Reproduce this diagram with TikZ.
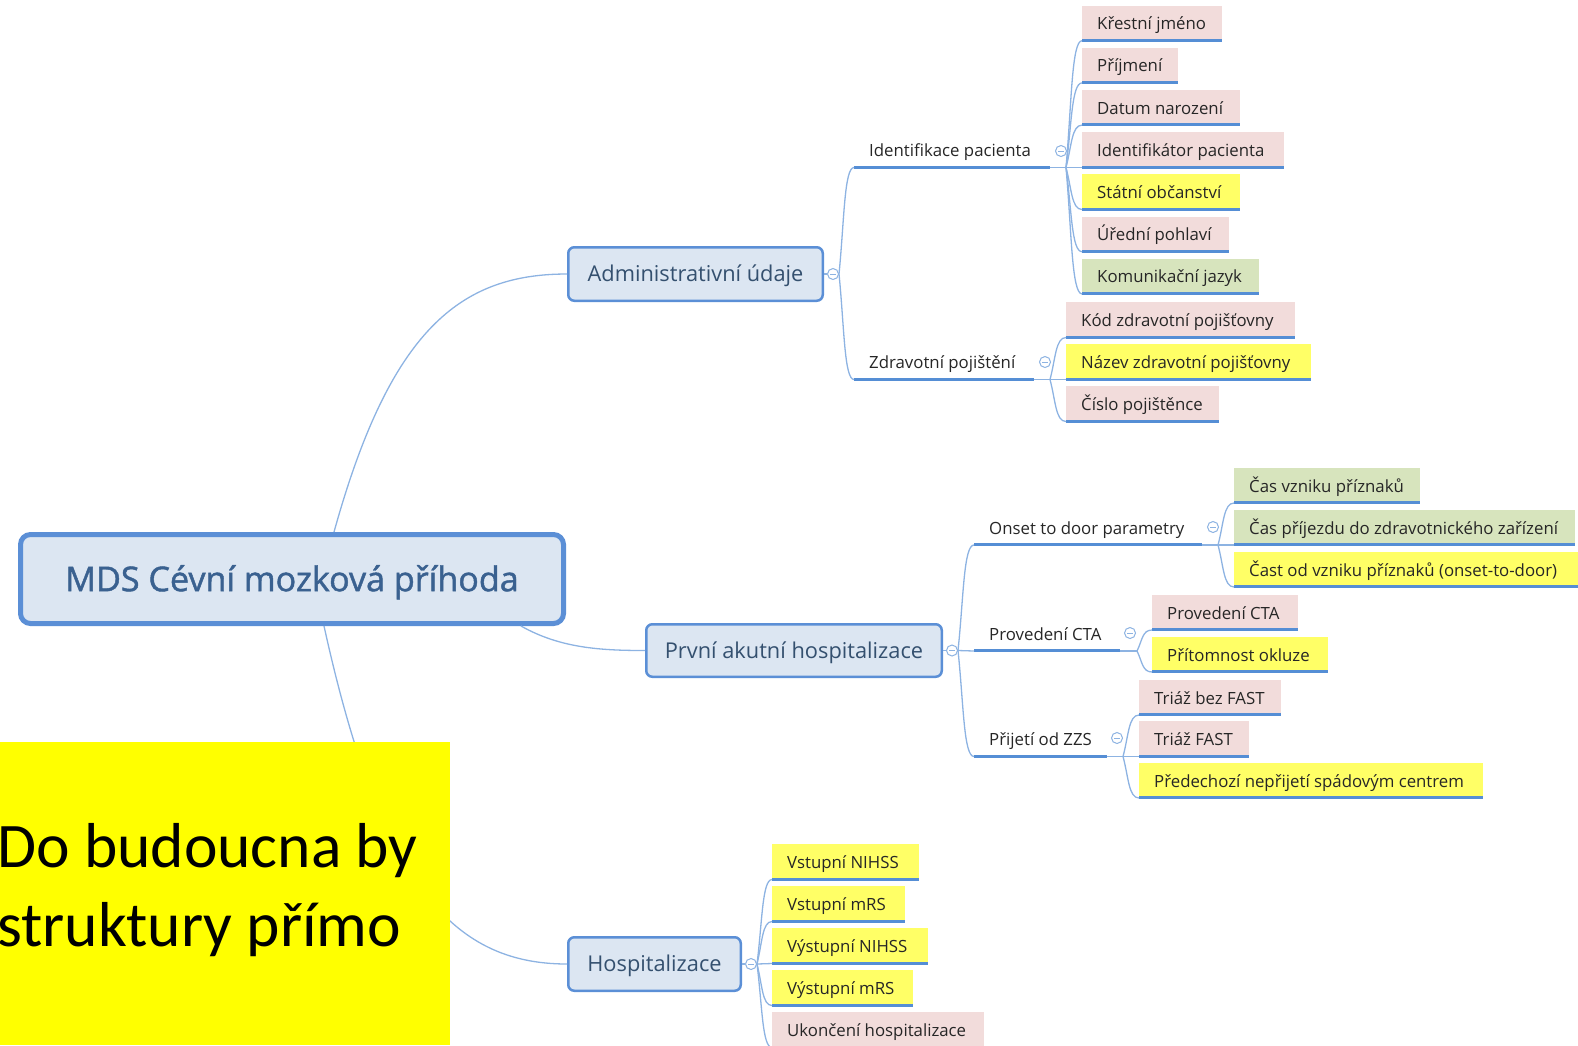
\documentclass[tikz,border=0pt]{standalone}
\usepackage{fontspec}
\setmainfont{Open Sans}
\newfontfamily\notefont{Carlito}
\newfontfamily\rootfont{Open Sans}[FakeBold=1.3]
\usetikzlibrary{calc}
\definecolor{pinkc}{HTML}{F2DCDB}
\definecolor{yelc}{HTML}{FFFF66}
\definecolor{grnc}{HTML}{D7E4BD}
\definecolor{ulblue}{HTML}{558ED5}
\definecolor{connc}{HTML}{8DB3E2}
\definecolor{boxfill}{HTML}{DCE6F2}
\definecolor{boxline}{HTML}{5B8FD6}
\definecolor{roottext}{HTML}{3A6190}
\definecolor{onetext}{HTML}{34506F}
\definecolor{leaftext}{HTML}{262626}
\definecolor{iconc}{HTML}{8DB3E2}
\definecolor{notey}{HTML}{FFFF00}
\newcommand{\mmleaf}[2]{\makebox[#1pt][l]{\hspace*{15pt}#2}}
\tikzset{
  conn/.style={draw=connc, line width=1.3pt},
  branch/.style={to path={let \p1=(\tikztostart), \p2=(\tikztotarget) in
      .. controls ({\x1+0.35*(\x2-\x1)},{0.5*\y1+0.5*\y2}) and ({\x1+0.35*(\x2-\x1)},{\y2}) .. (\tikztotarget)}},
  underl/.style={path picture={\fill[ulblue] ([yshift=3pt]path picture bounding box.south west) rectangle (path picture bounding box.south east);}},
  leaf/.style={fill=#1, underl, anchor=south west, inner sep=0pt, minimum height=36.5pt,
      text=leaftext, font=\fontsize{16.8}{20}\selectfont, text height=12pt, text depth=0pt},
  lvltwo/.style={underl, anchor=south west, inner sep=0pt, minimum height=36pt,
      text=leaftext, font=\fontsize{16.8}{20}\selectfont, text height=12pt, text depth=0pt},
  lvlone/.style={fill=boxfill, draw=boxline, line width=2.5pt, rounded corners=6pt,
      inner sep=0pt, text=onetext, font=\fontsize{21.8}{26}\selectfont, text height=15.6pt, text depth=0pt},
  rootbox/.style={fill=boxfill, draw=boxline, line width=5pt, rounded corners=10pt,
      inner sep=0pt, text=roottext, font=\rootfont\fontsize{34.1}{40}\selectfont, text height=24.3pt, text depth=0pt},
  icon/.style={circle, draw=iconc, fill=white, line width=1pt, minimum size=11pt, inner sep=0pt,
      path picture={\draw[iconc, line width=1pt] ([xshift=-3pt]path picture bounding box.center) -- ([xshift=3pt]path picture bounding box.center);}},
  notetext/.style={anchor=base west, inner sep=0pt, font=\notefont\fontsize{63.5}{77}\selectfont, text=black}
}
\begin{document}
\begin{tikzpicture}[x=1pt,y=-1pt]
\useasboundingbox (0,0) rectangle (1578,1045);

% main boxes
\node[rootbox, minimum width=543pt, minimum height=89pt] (root) at (292,579) {MDS Cévní mozková příhoda};
\node[lvlone, minimum width=254.5pt, minimum height=53.5pt] (adm) at (695.5,274) {Administrativní údaje};
\node[lvlone, minimum width=295.5pt, minimum height=52.5pt] (pah) at (794,650.5) {První akutní hospitalizace};
\node[lvlone, minimum width=172.5pt, minimum height=53.5pt] (hosp) at (654.5,964) {Hospitalizace};

% icons of level one
\node[icon] (iadm) at (833,274) {};
\node[icon] (ipah) at (952,650.5) {};
\node[icon] (ihosp) at (751,964) {};

% level two
\node[lvltwo] (idp) at (854,169) {\mmleaf{196}{Identifikace pacienta}};
\node[lvltwo] (zdp) at (854,381) {\mmleaf{180}{Zdravotní pojištění}};
\node[lvltwo] (ons) at (974,546.5) {\mmleaf{228}{Onset to door parametry}};
\node[lvltwo] (cta) at (974,652.5) {\mmleaf{146}{Provedení CTA}};
\node[lvltwo] (zzs) at (974,758) {\mmleaf{133}{Přijetí od ZZS}};

\node[icon] (iidp) at (1061,151) {};
\node[icon] (izdp) at (1045,362) {};
\node[icon] (ions) at (1213,527) {};
\node[icon] (icta) at (1130,633) {};
\node[icon] (izzs) at (1117,738) {};

% leaves: identifikace
\node[leaf=pinkc] (a1) at (1082,42.2) {\mmleaf{140}{Křestní jméno}};
\node[leaf=pinkc] (a2) at (1082,84.4) {\mmleaf{96}{Příjmení}};
\node[leaf=pinkc] (a3) at (1082,126.6) {\mmleaf{158}{Datum narození}};
\node[leaf=pinkc] (a4) at (1082,169) {\mmleaf{202}{Identifikátor pacienta}};
\node[leaf=yelc]  (a5) at (1082,211) {\mmleaf{158}{Státní občanství}};
\node[leaf=pinkc] (a6) at (1082,253.2) {\mmleaf{147}{Úřední pohlaví}};
\node[leaf=grnc]  (a7) at (1082,295.4) {\mmleaf{177}{Komunikační jazyk}};
% leaves: zdravotni
\node[leaf=pinkc] (b1) at (1066,339) {\mmleaf{229}{Kód zdravotní pojišťovny}};
\node[leaf=yelc]  (b2) at (1066,381) {\mmleaf{245}{Název zdravotní pojišťovny}};
\node[leaf=pinkc] (b3) at (1066,423) {\mmleaf{153}{Číslo pojištěnce}};
% leaves: onset
\node[leaf=grnc] (c1) at (1234,504.5) {\mmleaf{186}{Čas vzniku příznaků}};
\node[leaf=grnc] (c2) at (1234,546.5) {\mmleaf{341}{Čas příjezdu do zdravotnického zařízení}};
\node[leaf=yelc] (c3) at (1234,588.5) {\mmleaf{346}{Čast od vzniku příznaků (onset-to-door)}};
% leaves: CTA
\node[leaf=pinkc] (d1) at (1152,631.5) {\mmleaf{146}{Provedení CTA}};
\node[leaf=yelc]  (d2) at (1152,673.5) {\mmleaf{176}{Přítomnost okluze}};
% leaves: ZZS
\node[leaf=pinkc] (e1) at (1139,716.5) {\mmleaf{142}{Triáž bez FAST}};
\node[leaf=pinkc] (e2) at (1139,758) {\mmleaf{110}{Triáž FAST}};
\node[leaf=yelc]  (e3) at (1139,799.5) {\mmleaf{344}{Předechozí nepřijetí spádovým centrem}};
% leaves: hospitalizace
\node[leaf=yelc]  (f1) at (772,881) {\mmleaf{147}{Vstupní NIHSS}};
\node[leaf=yelc]  (f2) at (772,923) {\mmleaf{133}{Vstupní mRS}};
\node[leaf=yelc]  (f3) at (772,965) {\mmleaf{156}{Výstupní NIHSS}};
\node[leaf=yelc]  (f4) at (772,1007) {\mmleaf{141}{Výstupní mRS}};
\node[leaf=pinkc] (f5) at (772,1049) {\mmleaf{212}{Ukončení hospitalizace}};

% junctions
\coordinate (jidp) at (1066,167.5);
\coordinate (jzdp) at (1050,379.5);
\coordinate (jons) at (1218,545);
\coordinate (jcta) at (1137,651);
\coordinate (jzzs) at (1123,756.5);

% connectors root -> level one
\draw[conn] ([xshift=42pt]root.north) .. controls (390,330) and (460,274) .. (adm.west);
\draw[conn] ([xshift=-45pt]root.south east) .. controls (560,648) and (600,650.5) .. (pah.west);
\draw[conn] ([xshift=32pt]root.south) .. controls (380,880) and (450,964) .. (hosp.west);

% level one -> icon
\draw[conn] (adm.east) -- (iadm.west);
\draw[conn] (pah.east) -- (ipah.west);
\draw[conn] (hosp.east) -- (ihosp.west);

% level one -> level two
\draw[conn] (iadm.east) to[branch] ([yshift=1.5pt]idp.south west);
\draw[conn] (iadm.east) to[branch] ([yshift=1.5pt]zdp.south west);
\draw[conn] (ipah.east) to[branch] ([yshift=1.5pt]ons.south west);
\draw[conn] (ipah.east) -- ([yshift=1.5pt]cta.south west);
\draw[conn] (ipah.east) to[branch] ([yshift=1.5pt]zzs.south west);

% level two -> leaves
\draw[conn] ([yshift=1.5pt]idp.south east) -- ([yshift=1.5pt]a4.south west);
\foreach \n in {a1,a2,a3,a5,a6,a7}{\draw[conn] (jidp) to[branch] ([yshift=1.5pt]\n.south west);}
\draw[conn] ([yshift=1.5pt]zdp.south east) -- ([yshift=1.5pt]b2.south west);
\foreach \n in {b1,b3}{\draw[conn] (jzdp) to[branch] ([yshift=1.5pt]\n.south west);}
\draw[conn] ([yshift=1.5pt]ons.south east) -- ([yshift=1.5pt]c2.south west);
\foreach \n in {c1,c3}{\draw[conn] (jons) to[branch] ([yshift=1.5pt]\n.south west);}
\draw[conn] ([yshift=1.5pt]cta.south east) -- (jcta);
\foreach \n in {d1,d2}{\draw[conn] (jcta) to[branch] ([yshift=1.5pt]\n.south west);}
\draw[conn] ([yshift=1.5pt]zzs.south east) -- ([yshift=1.5pt]e2.south west);
\foreach \n in {e1,e3}{\draw[conn] (jzzs) to[branch] ([yshift=1.5pt]\n.south west);}
\draw[conn] (ihosp.east) -- ([yshift=1.5pt]f3.south west);
\foreach \n in {f1,f2,f4,f5}{\draw[conn] (ihosp.east) to[branch] ([yshift=1.5pt]\n.south west);}

% yellow note
\node[fill=notey, anchor=north west, minimum width=450pt, minimum height=303pt, inner sep=0pt] (note) at (0,742) {};
\node[notetext] (n1) at (-3,867.5) {Do budoucna by};
\node[notetext] (n2) at (-3,946) {struktury přímo};
\end{tikzpicture}
\end{document}
